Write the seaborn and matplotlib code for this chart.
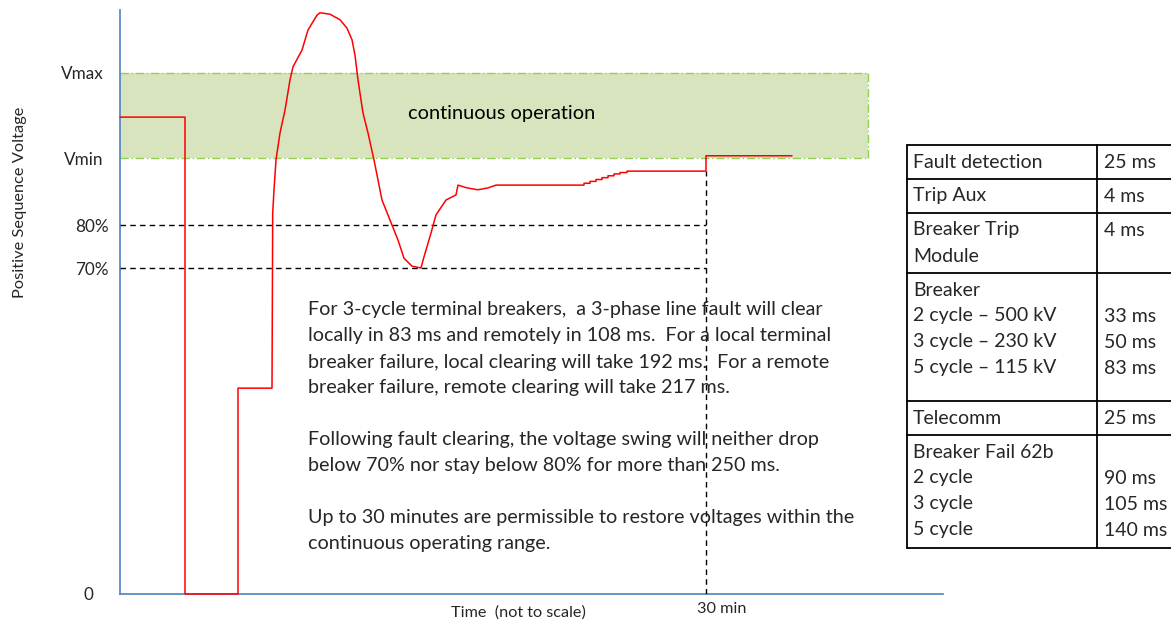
import matplotlib
matplotlib.use('Agg')
import matplotlib.pyplot as plt
import matplotlib.transforms as mtransforms
import seaborn as sns
import pandas as pd

# data (time is not to scale, voltage in % of nominal-ish units)
time_pts = [0, 6.5, 6.5, 11.8, 11.8, 15.2, 15.27, 15.4, 15.6, 16.0, 16.5, 17.0, 17.3,
            18.2, 18.8, 19.7, 20.0, 21.0, 22.0, 22.7, 23.2, 23.5, 23.8, 24.1, 24.3,
            24.8, 25.4, 26.2, 27.0, 27.8, 28.4, 29.2, 30.1, 30.4, 31.1, 31.6, 32.6,
            33.6, 33.8, 34.7, 35.8, 36.8, 37.6,
            45.8, 46.4, 46.4, 47.0, 47.0, 47.6, 47.6, 48.2, 48.2, 48.8, 48.8,
            49.4, 49.4, 50.0, 50.0, 50.7, 50.7,
            58.6, 58.6, 67.2]
volt_pts = [102.4, 102.4, 0, 0, 44.2, 44.2, 81.8, 86.8, 93.2, 99.0, 103.9, 110.4, 113.2,
            116.8, 121.1, 124.3, 124.8, 124.5, 123.3, 121.5, 119.0, 115.7, 110.4, 106.1, 103.3,
            99.0, 93.2, 84.6, 80.3, 76.0, 72.1, 70.4, 70.0, 72.4, 77.5, 81.4, 84.6,
            85.7, 87.8, 87.2, 86.8, 87.2, 87.8,
            87.8, 87.8, 88.2, 88.2, 88.6, 88.6, 89.0, 89.0, 89.4, 89.4, 89.8,
            89.8, 90.2, 90.2, 90.5, 90.5, 90.8,
            90.8, 94.1, 94.1]

v_max = 111.9
v_min = 93.6
v_80 = 79.2
v_70 = 70.0
t_30min = 58.6
t_band_end = 74.8

ytick_vals = [0, v_70, v_80, v_min, v_max]
ytick_text = ['0', '70%', '80%', 'Vmin', 'Vmax']
ytick_pads = [19, 8, 8, 12, 12]

para_lines = ["For 3-cycle terminal breakers,  a 3-phase line fault will clear",
              "locally in 83 ms and remotely in 108 ms.  For a local terminal",
              "breaker failure, local clearing will take 192 ms.  For a remote",
              "breaker failure, remote clearing will take 217 ms.",
              "",
              "Following fault clearing, the voltage swing will neither drop",
              "below 70% nor stay below 80% for more than 250 ms.",
              "",
              "Up to 30 minutes are permissible to restore voltages within the",
              "continuous operating range."]

table_labels = [["Fault detection"], ["Trip Aux"], ["Breaker Trip", "Module"],
                ["Breaker", "2 cycle \u2013 500 kV", "3 cycle \u2013 230 kV", "5 cycle \u2013 115 kV"],
                ["Telecomm"], ["Breaker Fail 62b", "2 cycle", "3 cycle", "5 cycle"]]
table_values = [["25 ms"], ["4 ms"], ["4 ms"], ["", "33 ms", "50 ms", "83 ms"],
                ["25 ms"], ["", "90 ms", "105 ms", "140 ms"]]

curve = pd.DataFrame({'time': time_pts, 'volt': volt_pts})

# plotting setup
sns.set_style('white')
plt.rcParams['font.family'] = ['Lato', 'DejaVu Sans']
W, H = 1171, 624
blue = '#4F81BD'

fig = plt.figure(figsize=(W / 100, H / 100), dpi=100)
ax = fig.add_axes([120 / W, (H - 594) / H, 823 / W, 584 / H])

## continuous operation band
ax.fill_between([0, t_band_end], v_min, v_max, color='#D7E4BD', lw=0, zorder=1)
band_ls = (0, (6, 2, 1, 2))
ax.plot([0, t_band_end], [v_max, v_max], color='#92D050', lw=1, ls=band_ls, zorder=2)
ax.plot([0, t_band_end], [v_min, v_min], color='#92D050', lw=1, ls=band_ls, zorder=2)
ax.plot([t_band_end, t_band_end], [v_min, v_max], color='#92D050', lw=1, ls=band_ls, zorder=2)
ax.text(t_band_end * 0.51, (v_min + v_max) / 2 + 0.5, 'continuous operation',
        ha='center', va='center', fontsize=14.4, color='black')

## dashed limits
dash = (0, (4, 3))
ax.plot([0, t_30min], [v_80, v_80], color='black', lw=1, ls=dash, zorder=3)
ax.plot([0, t_30min], [v_70, v_70], color='black', lw=1, ls=dash, zorder=3)
ax.plot([t_30min, t_30min], [0, volt_pts[-3]], color='black', lw=1, ls=dash, zorder=3)

## the voltage trace
sns.lineplot(data=curve, x='time', y='volt', sort=False, estimator=None,
             color='#FF0000', lw=1.1, ax=ax, zorder=5, clip_on=False)

ax.set_xlim(0, 82.3)
ax.set_ylim(0, 125.4)
for s in ['top', 'right']:
    ax.spines[s].set_visible(False)
for s in ['left', 'bottom']:
    ax.spines[s].set_color(blue)
    ax.spines[s].set_linewidth(1.2)

ax.set_yticks(ytick_vals)
ax.set_yticklabels(ytick_text, fontsize=12.3)
for tick, pad in zip(ax.yaxis.get_major_ticks(), ytick_pads):
    tick.set_pad(pad)
ax.tick_params(axis='y', length=0)
ax.set_xticks([t_30min])
ax.set_xticklabels(['30 min'], fontsize=11.7)
ax.tick_params(axis='x', length=0, pad=5.5)
shift = mtransforms.ScaledTranslation(16 / 100, 0, fig.dpi_scale_trans)
for lbl in ax.get_xticklabels():
    lbl.set_transform(lbl.get_transform() + shift)
ax.set_xlabel('Time  (not to scale)', fontsize=11.7)
ax.xaxis.set_label_coords((518 - 120) / 823, -0.019)
ax.set_ylabel('Positive Sequence Voltage', fontsize=11.8)
ax.yaxis.set_label_coords((18 - 120) / 823 + 0.011, (594 - 202) / 584)

## explanation text
for i, line in enumerate(para_lines):
    if line:
        fig.text(308 / W, 1 - (310 + 26 * i) / H, line, ha='left', va='center', fontsize=14.2)

## timing table
tab = fig.add_axes([906 / W, (H - 550) / H, (W - 906) / W, 406 / H])
tab.set_xlim(906, W)
tab.set_ylim(550, 144)
tab.axis('off')
row_edges = [145, 179, 213, 273, 401, 435, 548]
for y in row_edges:
    tab.plot([907, W], [y, y], color='black', lw=1.3)
tab.plot([907, 907], [row_edges[0], row_edges[-1]], color='black', lw=1.3)
tab.plot([1097, 1097], [row_edges[0], row_edges[-1]], color='black', lw=1.3)
for r, (labels, values) in enumerate(zip(table_labels, table_values)):
    top = row_edges[r]
    for j, txt in enumerate(labels):
        tab.text(913, top + 17 + 26 * j, txt, ha='left', va='center', fontsize=14)
    for j, txt in enumerate(values):
        if txt:
            tab.text(1104, top + 17 + 26 * j, txt, ha='left', va='center', fontsize=14)

plt.savefig('out.png', dpi=100)
